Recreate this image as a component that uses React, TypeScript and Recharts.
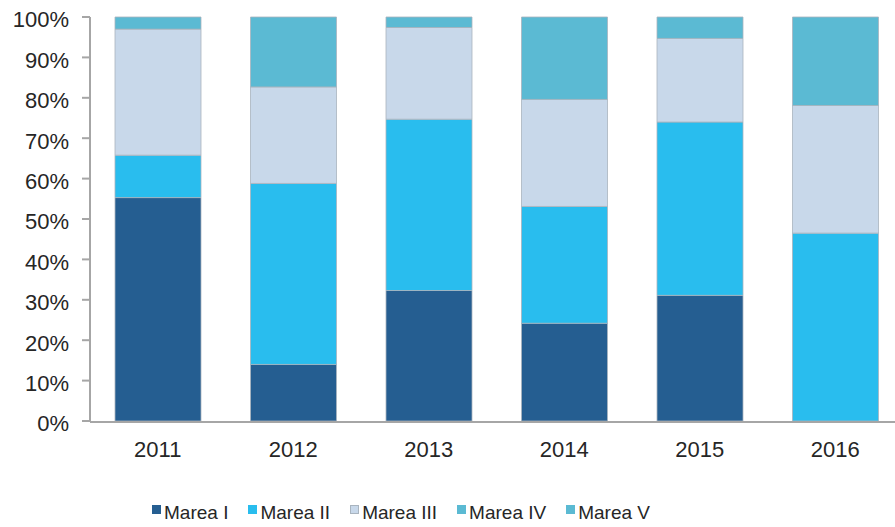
import React from "react";
import { BarChart, Bar, XAxis, YAxis, Legend } from "recharts";

// anni e quote (%) per marea
const years = ["2011", "2012", "2013", "2014", "2015", "2016"];
const mareaI = [55.3, 14.0, 32.3, 24.2, 31.1, 0];
const mareaII = [10.5, 44.8, 42.4, 28.9, 42.9, 46.5];
const mareaIII = [31.2, 23.9, 22.7, 26.5, 20.7, 31.6];
const mareaIV = [3.0, 17.3, 2.6, 20.4, 5.3, 21.9];
const mareaV = [0, 0, 0, 0, 0, 0];
const yTicks = [0, 10, 20, 30, 40, 50, 60, 70, 80, 90, 100];
const edgeTicks = [0, 1, 2, 3, 4, 5, 6];

const series = [
  { key: "mareaI", name: "Marea I", color: "#255e91" },
  { key: "mareaII", name: "Marea II", color: "#29bdee" },
  { key: "mareaIII", name: "Marea III", color: "#c8d8ea" },
  { key: "mareaIV", name: "Marea IV", color: "#5bbad3" },
  { key: "mareaV", name: "Marea V", color: "#5bbad3" },
];

const data = years.map((year, i) => ({
  year,
  mareaI: mareaI[i],
  mareaII: mareaII[i],
  mareaIII: mareaIII[i],
  mareaIV: mareaIV[i],
  mareaV: mareaV[i],
}));

const axisColor = "#a6a6a6";
const font = "'Liberation Sans', Arial, sans-serif";

const renderLegend = () => (
  <div style={{ display: "flex", alignItems: "center", height: 22, lineHeight: "22px", fontFamily: font, fontSize: 19, color: "#262626" }}>
    {series.map((s) => (
      <div key={s.key} style={{ display: "flex", alignItems: "center", marginRight: 20 }}>
        <span
          style={{
            display: "inline-block",
            width: 9,
            height: 9,
            background: s.color,
            boxSizing: "border-box",
            border: s.key === "mareaIII" ? "1px solid #a9b4bf" : "none",
            marginRight: 3,
            position: "relative",
            top: -4,
          }}
        />
        <span>{s.name}</span>
      </div>
    ))}
  </div>
);

export default function App() {
  return (
    <div style={{ position: "absolute", left: 0, top: 0, width: 895, height: 527, overflow: "hidden", background: "#fff" }}>
      <BarChart width={910} height={527} data={data} margin={{ top: 17, right: 7, bottom: 104, left: 0 }}>
        <XAxis
          xAxisId="edges"
          type="number"
          domain={[0, 6]}
          ticks={edgeTicks}
          allowDataOverflow
          height={1}
          tick={false}
          tickSize={7}
          axisLine={{ stroke: axisColor, strokeWidth: 2 }}
          tickLine={{ stroke: axisColor, strokeWidth: 2 }}
        />
        <XAxis
          dataKey="year"
          height={1}
          axisLine={false}
          tickLine={false}
          tickSize={0}
          tickMargin={20}
          tick={{ fill: "#262626", fontSize: 22, fontFamily: font }}
        />
        <YAxis
          domain={[0, 100]}
          ticks={yTicks}
          width={90}
          tickSize={8}
          tickMargin={13}
          tickFormatter={(v) => `${v}%`}
          axisLine={{ stroke: axisColor, strokeWidth: 2 }}
          tickLine={{ stroke: axisColor, strokeWidth: 2 }}
          tick={{ fill: "#262626", fontSize: 22, fontFamily: font, dy: 2.5 }}
        />
        <Legend
          layout="horizontal"
          verticalAlign="middle"
          align="center"
          content={renderLegend}
          wrapperStyle={{ left: 152, top: 502, width: 620, height: 22 }}
        />
        {series.map((s) => (
          <Bar
            key={s.key}
            dataKey={s.key}
            name={s.name}
            stackId="a"
            fill={s.color}
            stroke="#aab4be"
            strokeWidth={0.8}
            barSize={86}
            isAnimationActive={false}
          />
        ))}
      </BarChart>
    </div>
  );
}
